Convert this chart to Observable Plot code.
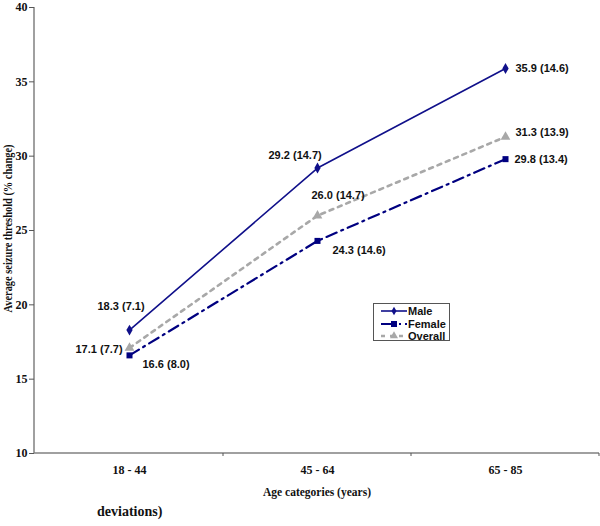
<!DOCTYPE html>
<html>
<head>
<meta charset="utf-8">
<script src="https://cdn.jsdelivr.net/npm/d3@7"></script>
<script src="https://cdn.jsdelivr.net/npm/@observablehq/plot@0.6"></script>
<style>
  html, body { margin: 0; padding: 0; background: #fff; }
  #wrap { position: relative; width: 600px; height: 526px; }
  #legend { position: absolute; left: 373px; top: 303px; width: 77px; height: 38px;
    border: 1px solid #555; background: #fff; box-sizing: border-box;
    font: bold 11px "Liberation Sans", Arial, sans-serif; color: #111; }
  #legend .row { position: absolute; left: 0; height: 12px; display: flex; align-items: center; }
  #legend svg { display: block; }
  #caption { position: absolute; left: 97px; top: 504px; height: 22px; line-height: 22px;
    font: bold 14px "Liberation Serif", "Times New Roman", serif; color: #111; }
</style>
</head>
<body>
<div id="wrap">
  <div id="chart"></div>
  <div id="legend"></div>
  <div id="caption">deviations)</div>
</div>
<script>
// ---- data ----
const categories = ["18 - 44", "45 - 64", "65 - 85"];
const maleMean = [18.3, 29.2, 35.9];
const maleSD = [7.1, 14.7, 14.6];
const femaleMean = [16.6, 24.3, 29.8];
const femaleSD = [8.0, 14.6, 13.4];
const overallMean = [17.1, 26.0, 31.3];
const overallSD = [7.7, 14.7, 13.9];
const yTicks = [10, 15, 20, 25, 30, 35, 40];
const seriesNames = ["Male", "Female", "Overall"];
const xLabel = "Age categories (years)";
const yLabel = "Average seizure threshold (% change)";

// ---- styling ----
const styles = {
  Male:    {stroke: "#10108a", width: 1.6, dash: null,        symbol: "diamond",  r: 3.3, fill: "#10108a"},
  Female:  {stroke: "#000080", width: 2.2, dash: "11,5,2,5",  symbol: "square",   r: 3.4, fill: "#000080"},
  Overall: {stroke: "#a8a8a8", width: 2.6, dash: "4,5",       symbol: "triangle", r: 3.6, fill: "#a8a8a8"}
};
// label offsets [dx, dy] relative to the point, text anchored at start
const labelOffsets = {
  Male:    [[-32, -24], [-49, -13], [10, 0]],
  Female:  [[13, 9], [15, 10], [9, 0]],
  Overall: [[-54, 2], [-6, -20], [10, -4]]
};

const means = {Male: maleMean, Female: femaleMean, Overall: overallMean};
const sds = {Male: maleSD, Female: femaleSD, Overall: overallSD};
const rows = seriesNames.flatMap(s => categories.map((c, i) => ({
  series: s, cat: c, i, value: means[s][i], sd: sds[s][i],
  label: `${means[s][i].toFixed(1)} (${sds[s][i].toFixed(1)})`
})));

const serif = "'Liberation Serif', 'Times New Roman', serif";
const sans = "'Liberation Sans', Arial, sans-serif";

// custom frame: left axis line and boundary ticks for band x
function frameMark(index, scales, values, dimensions) {
  const {x, y} = scales;
  const g = d3.create("svg:g");
  const bw = typeof x.bandwidth === "function" ? x.bandwidth() : x.bandwidth;
  const y0 = y(yTicks[0]);
  const y1 = y(yTicks[yTicks.length - 1]);
  const left = dimensions.marginLeft;
  g.append("line").attr("x1", left).attr("x2", left).attr("y1", y1).attr("y2", y0)
    .attr("stroke", "#808080").attr("stroke-width", 1.5);
  g.append("line").attr("x1", left).attr("x2", dimensions.width - dimensions.marginRight).attr("y1", y0).attr("y2", y0)
    .attr("stroke", "#808080").attr("stroke-width", 1.5);
  categories.forEach(c => {
    const bx = x(c) + bw;
    g.append("line").attr("x1", bx).attr("x2", bx).attr("y1", y0).attr("y2", y0 + 3)
      .attr("stroke", "#555").attr("stroke-width", 1);
  });
  return g.node();
}

const marks = [frameMark];
marks.push(Plot.axisY({ticks: yTicks, tickSize: 5, tickPadding: 2, stroke: "#555",
  fontFamily: serif, fontSize: 12, fontWeight: "bold", fill: "#111", label: null}));
marks.push(Plot.axisX({tickSize: 0, tickPadding: 12, fontFamily: serif, fontSize: 12,
  fontWeight: "bold", fill: "#111", label: null}));
marks.push(Plot.text([xLabel], {frameAnchor: "bottom", lineAnchor: "middle", textAnchor: "middle", dy: 39,
  fontFamily: serif, fontSize: 11.5, fontWeight: "bold", fill: "#111"}));
marks.push(Plot.text([yLabel], {frameAnchor: "left", textAnchor: "middle", lineAnchor: "middle",
  rotate: -90, dx: -26, dy: -2,
  fontFamily: serif, fontSize: 12, fontWeight: "bold", fill: "#111"}));

for (const s of seriesNames) {
  const st = styles[s];
  const data = rows.filter(r => r.series === s);
  marks.push(Plot.line(data, {x: "cat", y: "value", stroke: st.stroke, strokeWidth: st.width,
    strokeDasharray: st.dash ?? undefined, curve: "linear"}));
  marks.push(Plot.dot(data, {x: "cat", y: "value", symbol: st.symbol, r: st.r, fill: st.fill, stroke: "none"}));
  data.forEach((d, k) => {
    const [dx, dy] = labelOffsets[s][k];
    marks.push(Plot.text([d], {x: "cat", y: "value", text: "label", dx, dy, textAnchor: "start",
      fontFamily: sans, fontSize: 11, fontWeight: "bold", fill: "#111"}));
  });
}

const chart = Plot.plot({
  width: 600,
  height: 500,
  marginLeft: 34,
  marginRight: 1,
  marginTop: 7,
  marginBottom: 47,
  style: {background: "#fff", overflow: "visible"},
  x: {type: "band", domain: categories, padding: 0, axis: null},
  y: {domain: [yTicks[0], yTicks[yTicks.length - 1]], axis: null},
  marks
});
document.getElementById("chart").appendChild(chart);
// condensed look of the rotated y title
d3.select(chart).selectAll("text").filter(function() { return this.textContent === yLabel; })
  .attr("textLength", 168).attr("lengthAdjust", "spacingAndGlyphs");

// ---- legend ----
const legend = d3.select("#legend");
const legendSymbols = {Male: d3.symbolDiamond, Female: d3.symbolSquare, Overall: d3.symbolTriangle};
const legendSizes = {Male: 22, Female: 36, Overall: 28};
seriesNames.forEach((s, k) => {
  const st = styles[s];
  const row = legend.append("div").attr("class", "row").style("top", (1 + k * 12.5) + "px");
  const sw = row.append("svg").attr("width", 34).attr("height", 12);
  sw.append("line").attr("x1", 7).attr("x2", 33).attr("y1", 6).attr("y2", 6)
    .attr("stroke", st.stroke).attr("stroke-width", st.width)
    .attr("stroke-dasharray", s === "Female" ? "14,4,2,4" : st.dash);
  sw.append("path").attr("transform", "translate(20,6)")
    .attr("d", d3.symbol(legendSymbols[s], legendSizes[s])())
    .attr("fill", st.fill);
  row.append("span").text(s);
});
</script>
</body>
</html>
